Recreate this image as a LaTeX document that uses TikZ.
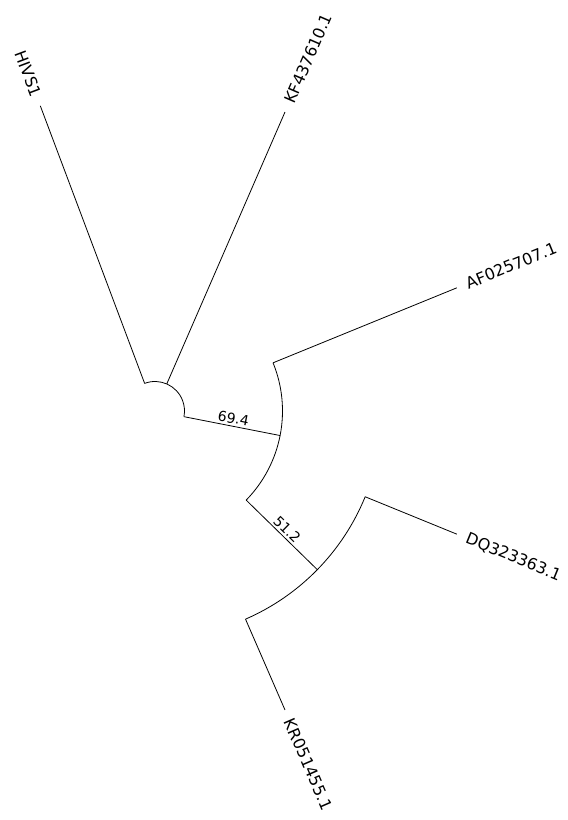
\documentclass[tikz,border=0pt]{standalone}
\usepackage{fontspec}
\setmainfont{DejaVu Sans}
\begin{document}
\begin{tikzpicture}[x=0.75pt,y=0.75pt,line width=0.6pt,
	leaf/.style={inner sep=0pt,font=\fontsize{12}{14}\selectfont},
	support/.style={inner sep=1.5pt,font=\fontsize{10.5}{12}\selectfont}]
	\useasboundingbox (0,0) rectangle (567,820);
	\begin{scope}[shift={(155,409)}]
		% branch points on the arcs
		\coordinate (r-hivs) at (110.6:29.5);
		\coordinate (r-kf) at (66.5:29.5);
		\coordinate (r-a) at (-11.1:29.5);
		\coordinate (a) at (-11.1:127.5);
		\coordinate (a-af) at (22.2:127.5);
		\coordinate (a-b) at (-44.35:127.5);
		\coordinate (b) at (-44.35:227);
		\coordinate (b-dq) at (-22.2:227);
		\coordinate (b-kr) at (-66.5:227);
		% leaves
		\coordinate (hivs) at (110.6:326);
		\coordinate (kf) at (66.5:326);
		\coordinate (af) at (22.2:326);
		\coordinate (dq) at (-22.2:326);
		\coordinate (kr) at (-66.5:326);
		% arcs
		\draw (r-hivs) arc[start angle=110.6, end angle=-11.1, radius=29.5];
		\draw (a-af) arc[start angle=22.2, end angle=-44.35, radius=127.5];
		\draw (b-dq) arc[start angle=-22.2, end angle=-66.5, radius=227];
		% branches
		\draw (r-hivs) -- (hivs);
		\draw (r-kf) -- (kf);
		\draw (r-a) -- node[support,above,sloped] (s-a) {69.4} (a);
		\draw (a-af) -- (af);
		\draw (a-b) -- node[support,above,sloped] (s-b) {51.2} (b);
		\draw (b-dq) -- (dq);
		\draw (b-kr) -- (kr);
		% names
		\node[leaf,anchor=east,rotate=-69.4] (hivs-l) at (110.6:336) {HIVS1};
		\node[leaf,anchor=west,rotate=66.5] (kf-l) at (66.5:336) {KF437610.1};
		\node[leaf,anchor=west,rotate=22.2] (af-l) at (22.2:336) {AF025707.1};
		\node[leaf,anchor=west,rotate=-22.2] (dq-l) at (-22.2:336) {DQ323363.1};
		\node[leaf,anchor=west,rotate=-66.5] (kr-l) at (-66.5:336) {KR051455.1};
	\end{scope}
\end{tikzpicture}
\end{document}
